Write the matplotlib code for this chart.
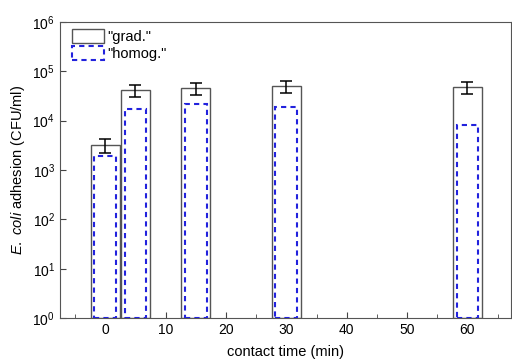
import numpy as np
import matplotlib.pyplot as plt
from matplotlib.patches import Patch

plt.rcParams['font.family'] = ['Liberation Sans', 'DejaVu Sans']
plt.rcParams['mathtext.fontset'] = 'custom'
plt.rcParams['mathtext.it'] = 'Liberation Sans:italic'
plt.rcParams['mathtext.rm'] = 'Liberation Sans'

times = [0, 5, 15, 30, 60]
grad = [3200, 41000, 45000, 50000, 47000]
grad_err = [950, 11000, 12500, 13000, 12500]
homog = [1900, 17500, 22000, 19000, 8000]

fig = plt.figure(figsize=(5.12, 3.64), dpi=100)
ax = fig.add_axes([0.117, 0.126, 0.881, 0.814])

ax.bar(times, grad, width=4.8, bottom=1, facecolor='white', edgecolor='#555555',
       linewidth=1.0, zorder=2)
ax.bar(times, homog, width=3.6, bottom=1, facecolor='none', edgecolor='#2222dd',
       linewidth=1.5, linestyle=(0, (2.5, 2)), zorder=3)
ax.errorbar(times, grad, yerr=grad_err, fmt='none', ecolor='black',
            elinewidth=1.1, capsize=4, capthick=1.1, zorder=4)

ax.set_yscale('log')
ax.set_ylim(1, 1e6)
ax.set_xlim(-7.5, 67.2)
ax.set_xticks([0, 10, 20, 30, 40, 50, 60])
ax.set_xticks(np.arange(-5, 66, 10), minor=True)
ax.yaxis.set_minor_locator(plt.NullLocator())
ax.tick_params(direction='in', labelsize=10, length=4, color='#444444')
ax.tick_params(which='minor', direction='in', length=3, color='#444444')
for s in ax.spines.values():
    s.set_color('#555555')

ax.set_xlabel('contact time (min)', fontsize=10.5, labelpad=6)
ax.set_ylabel(r'$\it{E.\ coli}$ adhesion (CFU/ml)', fontsize=10.5)

handles = [Patch(facecolor='white', edgecolor='#555555', linewidth=1.0),
           Patch(facecolor='none', edgecolor='#2222dd', linewidth=1.5,
                 linestyle=(0, (2.5, 2)))]
ax.legend(handles, ['"grad."', '"homog."'], loc='upper left',
          bbox_to_anchor=(0.005, 1.01), frameon=False, fontsize=10.5,
          handlelength=2.2, handleheight=1.1, handletextpad=0.2,
          labelspacing=0.15, borderpad=0.2)

fig.savefig('out.png', dpi=100)
